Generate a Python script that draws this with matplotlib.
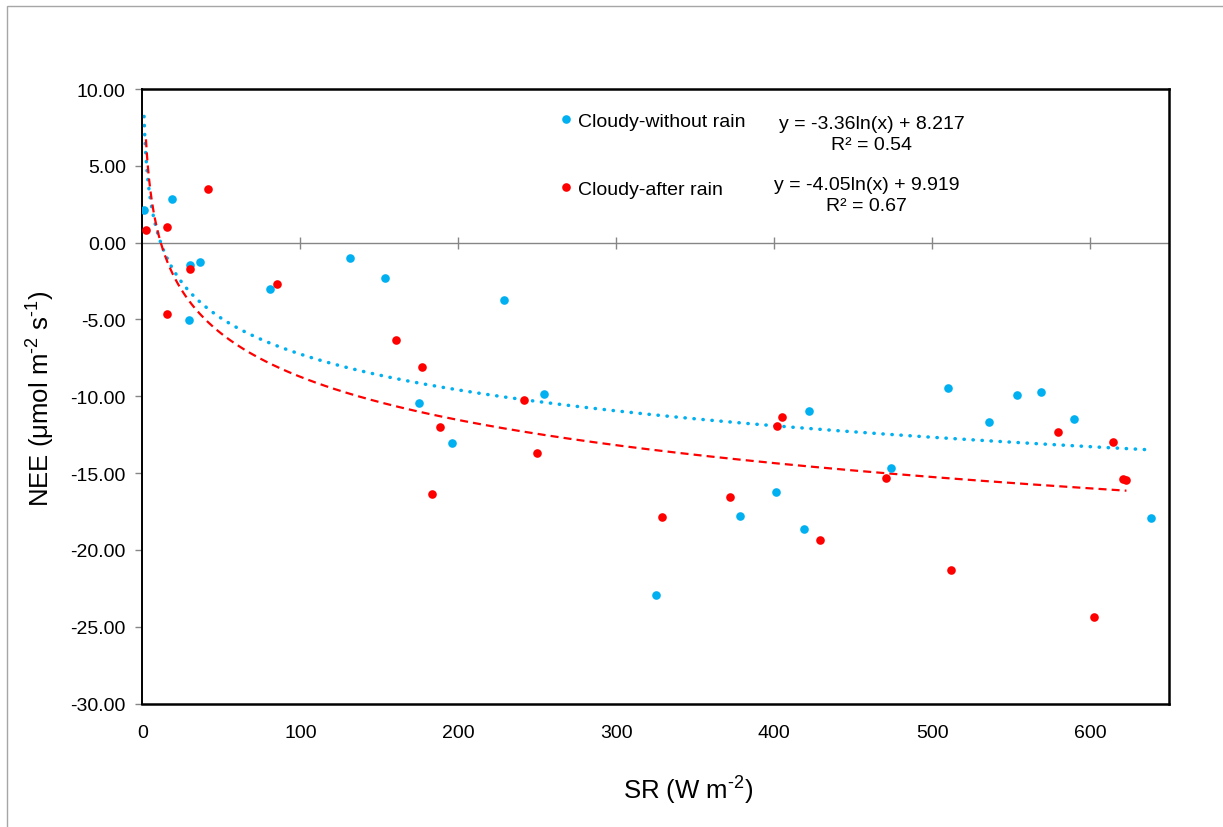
import numpy as np
import matplotlib
matplotlib.use("Agg")
import matplotlib.pyplot as plt
from matplotlib.patches import Rectangle

# =====================
# data
# =====================
sr_no_rain = [1.0, 18.7, 30.0, 36.4, 29.4, 80.7, 131.3, 153.5, 229.2, 175.2, 196.3, 254.5,
              325.0, 422.0, 510.0, 474.0, 401.1, 378.2, 418.9, 553.9, 569.1, 536.0, 589.7, 638.7]
nee_no_rain = [2.13, 2.81, -1.46, -1.25, -5.06, -3.03, -1.03, -2.33, -3.76, -10.42, -13.05, -9.86,
               -22.93, -10.98, -9.47, -14.65, -16.23, -17.77, -18.66, -9.94, -9.73, -11.66, -11.46, -17.95]

sr_after_rain = [2.2, 15.7, 41.5, 30.0, 15.7, 85.3, 160.4, 177.3, 188.5, 183.2, 241.5, 250.1,
                 329.2, 405.0, 402.0, 471.0, 372.3, 429.0, 512.2, 579.9, 614.7, 621.0, 623.1, 602.8]
nee_after_rain = [0.83, 1.03, 3.46, -1.72, -4.63, -2.70, -6.34, -8.08, -11.98, -16.36, -10.27, -13.70,
                  -17.86, -11.37, -11.94, -15.34, -16.56, -19.36, -21.33, -12.35, -12.96, -15.37, -15.45, -24.37]

# log fit coefficients printed on the chart: y = a*ln(x) + b
fit_no_rain = (-3.36, 8.217, 0.54)
fit_after_rain = (-4.05, 9.919, 0.67)

labels = ["Cloudy-without rain", "Cloudy-after rain"]
x_ticks = [0, 100, 200, 300, 400, 500, 600]
y_ticks = [10, 5, 0, -5, -10, -15, -20, -25, -30]

blue = "#00B0F0"
red = "#FF0000"
grey = "#868686"

plt.rcParams["font.family"] = ["Liberation Sans", "DejaVu Sans"]
plt.rcParams["mathtext.default"] = "regular"

fig = plt.figure(figsize=(12.23, 8.28), dpi=100)
ax = fig.add_axes([0.1165, 0.1490, 0.8393, 0.7423])

# chart area border (only top/left visible)
fig.patches.append(Rectangle((7 / 1223, -0.2), 2, 1.2 - 7 / 828, transform=fig.transFigure,
                             fill=False, edgecolor="#A6A6A6", linewidth=1.0))

# =====================
# scatter points
# =====================
ax.plot(sr_no_rain, nee_no_rain, "o", color=blue, markersize=6.2, markeredgewidth=0,
        label=labels[0], zorder=3)
ax.plot(sr_after_rain, nee_after_rain, "o", color=red, markersize=6.2, markeredgewidth=0,
        label=labels[1], zorder=3)

# =====================
# trend lines
# =====================
xb = np.geomspace(min(sr_no_rain), max(sr_no_rain), 400)
ax.plot(xb, fit_no_rain[0] * np.log(xb) + fit_no_rain[1], color=blue, linewidth=2.5,
        linestyle=(0, (0.1, 2.5)), dash_capstyle="round", zorder=2)
xr = np.geomspace(min(sr_after_rain), max(sr_after_rain), 400)
ax.plot(xr, fit_after_rain[0] * np.log(xr) + fit_after_rain[1], color=red, linewidth=1.6,
        linestyle=(0, (3.6, 2.3)), zorder=2)

ax.set_xlim(0, 650)
ax.set_ylim(-30, 10)
ax.set_xticks(x_ticks)
ax.set_yticks(y_ticks)
ax.set_yticklabels([f"{v:.2f}" for v in y_ticks])

for s in ax.spines.values():
    s.set_color("black")
    s.set_linewidth(1.8)
ax.spines["left"].set_linewidth(1.4)

ax.tick_params(axis="x", length=0, pad=15, labelsize=14)
ax.tick_params(axis="y", length=5, width=1, color=grey, pad=7, labelsize=14)

# zero line with crossing ticks
ax.axhline(0, color=grey, linewidth=1.0, zorder=1)
zero_ax = ax.secondary_xaxis((0 - (-30)) / 40)
zero_ax.set_xticks(x_ticks[1:])
zero_ax.tick_params(direction="inout", length=8.5, width=1, color=grey, labelbottom=False,
                    labeltop=False)
for s in zero_ax.spines.values():
    s.set_visible(False)

ax.set_xlabel("SR (W m$^{\u20102}$)", fontsize=18.5)
ax.xaxis.set_label_coords(0.532, -0.114)
ax.set_ylabel("NEE (μmol m$^{\u20102}$ s$^{\u20101}$)", fontsize=18.5)
ax.yaxis.set_label_coords(-0.083, 0.498)

# =====================
# legend + equations
# =====================
ax.legend(loc="upper left", bbox_to_anchor=(0.4077, 0.962), frameon=False, fontsize=14,
          handlelength=0.5, handletextpad=0.4, labelspacing=2.6, borderpad=0,
          borderaxespad=0, markerscale=1.0)

ax.text(0.7107, 0.9268, f"y = {fit_no_rain[0]}ln(x) + {fit_no_rain[1]}\nR² = {fit_no_rain[2]}",
        transform=ax.transAxes, ha="center", va="center", fontsize=14, linespacing=1.3,
        multialignment="center")
ax.text(0.7053, 0.8275, f"y = {fit_after_rain[0]}ln(x) + {fit_after_rain[1]}\nR² = {fit_after_rain[2]}",
        transform=ax.transAxes, ha="center", va="center", fontsize=14, linespacing=1.3,
        multialignment="center")

fig.savefig("out.png", dpi=100)
